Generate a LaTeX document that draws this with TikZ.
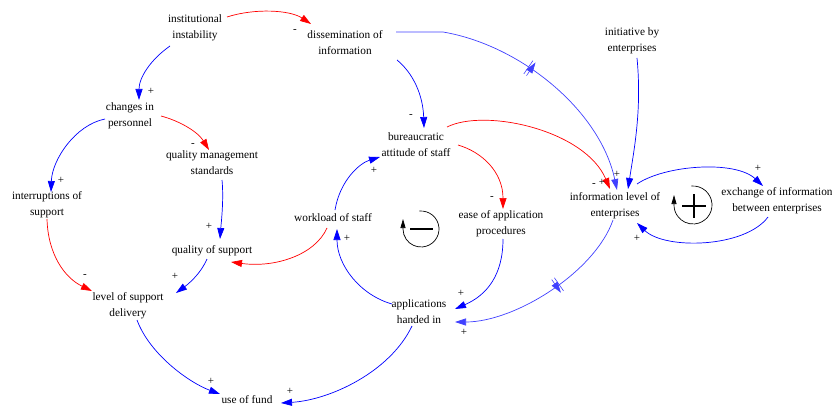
\documentclass[tikz,border=0pt]{standalone}
\usepackage{fontspec}
\setmainfont{Liberation Serif}
\usetikzlibrary{arrows.meta,calc,decorations.markings}
\begin{document}
\begin{tikzpicture}[x=1pt,y=-1pt,
  var/.style={align=center,inner sep=0pt,font=\fontsize{11.3}{16}\selectfont},
  pol/.style={inner sep=0pt,font=\fontsize{11}{12}\selectfont},
  lnk/.style={line width=0.7pt,-{Triangle[length=11pt,width=7pt]}},
  plink/.style={lnk,draw=blue},
  nlink/.style={lnk,draw=red},
  lplink/.style={lnk,draw=blue!75},
  delaymark/.style={postaction={decorate},decoration={markings,
     mark=at position #1 with {\draw[blue!75,line width=0.6pt] (-1.6pt,-8pt)--(-1.6pt,8pt) (1.6pt,-8pt)--(1.6pt,8pt);}}},
  loopline/.style={line width=0.7pt,-{Triangle[length=9pt,width=5pt]}}
]
\useasboundingbox (0,0) rectangle (832,409);

% variables
\node[var] (ii)   at (195,28)  {institutional\\instability};
\node[var] (dis)  at (345,43)  {dissemination of\\information};
\node[var] (ini)  at (632,41)  {initiative by\\enterprises};
\node[var] (cip)  at (130,116) {changes in\\personnel};
\node[var] (qms)  at (212,163) {quality management\\standards};
\node[var] (bur)  at (416,145) {bureaucratic\\attitude of staff};
\node[var] (ile)  at (615,206) {information level of\\enterprises};
\node[var] (exch) at (777,201) {exchange of information\\between enterprises};
\node[var] (irs)  at (47,205)  {interruptions of\\support};
\node[var] (wos)  at (333,218) {workload of staff};
\node[var] (eap)  at (501,224) {ease of application\\procedures};
\node[var] (qos)  at (212,251) {quality of support};
\node[var] (lsd)  at (128,306) {level of support\\delivery};
\node[var] (ahi)  at (419,312) {applications\\handed in};
\node[var] (uof)  at (247,400) {use of fund};

% links
\draw[nlink] ($(ii)+(32,-11)$) .. controls (255,8) and (290,10) .. ($(dis)+(-34,-19)$);
\draw[plink] ($(ii)+(-25,18)$) .. controls (150,60) and (139,78) .. ($(cip)+(9,-16)$);
\draw[nlink] ($(cip)+(31,0)$) .. controls (180,121) and (198,132) .. ($(qms)+(-3,-13)$);
\draw[plink] ($(cip)+(-25,3)$) .. controls (75,125) and (52,160) .. ($(irs)+(4,-13)$);
\draw[nlink] ($(irs)+(0,14)$) .. controls (48,255) and (65,278) .. ($(lsd)+(-36,-15)$);
\draw[plink] ($(qms)+(10,17)$) .. controls (224,200) and (221,225) .. ($(qos)+(8,-12)$);
\draw[plink] ($(qos)+(-5,8)$) .. controls (200,275) and (187,285) .. ($(lsd)+(48,-13)$);
\draw[nlink] ($(wos)+(-6,10)$) .. controls (315,255) and (275,268) .. ($(qos)+(19,11)$);
\draw[plink] ($(lsd)+(9,14)$) .. controls (150,355) and (190,383) .. ($(uof)+(-27,-6)$);
\draw[plink] ($(ahi)+(-7,14)$) .. controls (390,372) and (330,400) .. ($(uof)+(34,3)$);
\draw[plink] ($(ahi)+(-27,-8)$) .. controls (360,295) and (337,265) .. ($(wos)+(4,11)$);
\draw[plink] ($(wos)+(2,-8)$) .. controls (340,180) and (360,163) .. ($(bur)+(-36,12)$);
\draw[plink] ($(dis)+(52,17)$) .. controls (413,73) and (423,95) .. ($(bur)+(8,-17)$);
\draw[nlink] ($(bur)+(42,0)$) .. controls (482,152) and (503,172) .. ($(eap)+(2,-15)$);
\draw[nlink] ($(bur)+(31,-18)$) .. controls (485,108) and (585,130) .. ($(ile)+(-5,-17)$);
\draw[plink] ($(eap)+(2,15)$) .. controls (503,275) and (487,295) .. ($(ahi)+(36,-3)$);
\draw[lplink,delaymark=0.48] ($(dis)+(51,-11)$) -- (443,32) .. controls (520,45) and (600,110) .. ($(ile)+(2,-16)$);
\draw[plink] ($(ini)+(5,17)$) .. controls (642,110) and (634,150) .. ($(ile)+(13,-17)$);
\draw[plink] ($(ile)+(22,-22)$) .. controls (665,165) and (735,160) .. ($(exch)+(-14,-15)$);
\draw[plink] ($(exch)+(-9,16)$) .. controls (745,248) and (665,250) .. ($(ile)+(22,17)$);
\draw[lplink,delaymark=0.44] ($(ile)+(-2,14)$) .. controls (595,272) and (515,322) .. ($(ahi)+(36,10)$);

% polarities
\node[pol] at (295,31)  {-};
\node[pol] at (151,91)  {+};
\node[pol] at (193,145) {-};
\node[pol] at (61,180)  {+};
\node[pol] at (85,276)  {-};
\node[pol] at (209,226) {+};
\node[pol] at (175,276) {+};
\node[pol] at (211,381) {+};
\node[pol] at (290,391) {+};
\node[pol] at (347,238) {+};
\node[pol] at (374,170) {+};
\node[pol] at (411,116) {-};
\node[pol] at (492,198) {-};
\node[pol] at (594,185) {-};
\node[pol] at (602,182) {+};
\node[pol] at (617,174) {+};
\node[pol] at (461,293) {+};
\node[pol] at (758,168) {+};
\node[pol] at (637,238) {+};
\node[pol] at (464,332) {+};

% loop symbols
\coordinate (nl) at (421,229);
\coordinate (pl) at (693,205);
\draw[loopline] ($(nl)+(95:18pt)$) arc[start angle=95,end angle=-180,radius=18pt] -- ++(0,-10);
\draw[line width=1.3pt] ($(nl)+(-11,0)$) -- ($(nl)+(12,0)$);
\draw[loopline] ($(pl)+(95:19pt)$) arc[start angle=95,end angle=-180,radius=19pt] -- ++(0,-10);
\draw[line width=1.6pt] ($(pl)+(-11,1)$) -- ($(pl)+(13,1)$) ($(pl)+(1,-11)$) -- ($(pl)+(1,13)$);
\end{tikzpicture}
\end{document}
